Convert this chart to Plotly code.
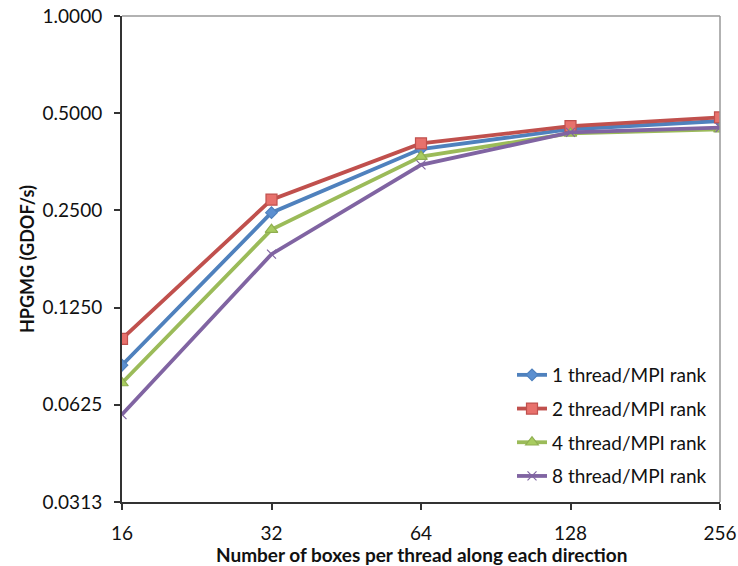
import math
import plotly.graph_objects as go

# Boxes per thread along each direction
boxes = [16, 32, 64, 128, 256]

# HPGMG throughput (GDOF/s) for each threading configuration
thr1 = [0.0829, 0.246, 0.387, 0.446, 0.473]
thr2 = [0.100, 0.270, 0.403, 0.456, 0.485]
thr4 = [0.073, 0.218, 0.367, 0.433, 0.446]
thr8 = [0.0583, 0.183, 0.346, 0.436, 0.451]

series_names = ["1 thread/MPI rank", "2 thread/MPI rank",
                "4 thread/MPI rank", "8 thread/MPI rank"]

y_ticks = [0.03125, 0.0625, 0.125, 0.25, 0.5, 1.0]
y_ticktext = ["0.0313", "0.0625", "0.1250", "0.2500", "0.5000", "1.0000"]
x_ticktext = ["16", "32", "64", "128", "256"]

x_title = "Number of boxes per thread along each direction"
y_title = "HPGMG (GDOF/s)"

FONT = "Lato, 'Open Sans', sans-serif"
TXT = "#111111"

styles = [
    dict(color="#4F81BD", symbol="diamond", size=9, fill="#5B8FD0", edge="#4F81BD"),
    dict(color="#C0504D", symbol="square", size=11, fill="#E8716C", edge="#C0504D"),
    dict(color="#9BBB59", symbol="triangle-up", size=11, fill="#A8CC5F", edge="#8FAE50"),
    dict(color="#8064A2", symbol="x-thin", size=9, fill="#8064A2", edge="#8064A2"),
]

fig = go.Figure()
for name, vals, st in zip(series_names, [thr1, thr2, thr4, thr8], styles):
    fig.add_trace(go.Scatter(
        x=boxes, y=vals, name=name, mode="lines+markers",
        legendgroup=name,
        line=dict(color=st["color"], width=3.8),
        marker=dict(symbol=st["symbol"], size=st["size"], color=st["fill"],
                    line=dict(color=st["edge"], width=1.2)),
    ))

L, R, T, B = 122, 18, 16, 64
plot_w = 738 - L - R
plot_h = 566 - T - B

fig.update_layout(
    width=738, height=566,
    margin=dict(l=L, r=R, t=T, b=B, autoexpand=False),
    paper_bgcolor="white", plot_bgcolor="white",
    font=dict(family=FONT, size=19, color=TXT),
    showlegend=True,
    legend=dict(x=(512 - L) / plot_w, y=(566 - B - 356) / plot_h,
                xanchor="left", yanchor="top",
                bgcolor="rgba(255,255,255,0)", borderwidth=0,
                font=dict(family=FONT, size=19, color=TXT),
                tracegroupgap=6, itemwidth=30),
    xaxis=dict(
        type="log", range=[math.log10(16), math.log10(256)],
        tickvals=boxes, ticktext=x_ticktext,
        ticks="outside", ticklen=6, tickcolor="#333333", tickwidth=1.5,
        ticklabelstandoff=7,
        showline=True, linecolor="#333333", linewidth=2,
        showgrid=False, zeroline=False, automargin=False,
        tickfont=dict(family=FONT, size=19, color=TXT),
    ),
    yaxis=dict(
        type="log", range=[math.log10(0.03125), 0],
        tickvals=y_ticks, ticktext=y_ticktext,
        ticks="outside", ticklen=6, tickcolor="#333333", tickwidth=1.5,
        ticklabelstandoff=8,
        showline=True, linecolor="#333333", linewidth=2,
        showgrid=False, zeroline=False, automargin=False,
        tickfont=dict(family=FONT, size=19, color=TXT),
    ),
)

# Axis titles placed relative to the plot area edges
fig.add_annotation(text=f"<b>{x_title}</b>", xref="paper", yref="paper",
                   x=0.5, y=0, yshift=-52, xanchor="center", yanchor="middle",
                   showarrow=False, font=dict(family=FONT, size=19, color=TXT))
fig.add_annotation(text=f"<b>{y_title}</b>", xref="paper", yref="paper",
                   x=0, y=0.5, xshift=-95, xanchor="center", yanchor="middle",
                   textangle=-90, showarrow=False,
                   font=dict(family=FONT, size=18, color=TXT))

# Plot-area border on the top and right sides
fig.add_shape(type="line", xref="x domain", yref="y domain",
              x0=0, x1=1, y0=1, y1=1, line=dict(color="#999999", width=1.5))
fig.add_shape(type="line", xref="x domain", yref="y domain",
              x0=1, x1=1, y0=0, y1=1, line=dict(color="#999999", width=1.5))

fig.write_html("out.html")
